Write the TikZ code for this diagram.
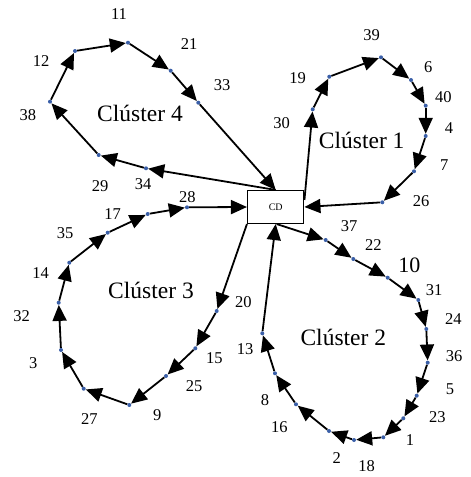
\documentclass[tikz,border=0pt]{standalone}
\usepackage{fontspec}
\setmainfont{Liberation Serif}
\usetikzlibrary{arrows.meta,calc}
\definecolor{dotblue}{RGB}{58,95,168}
\tikzset{
  pt/.style={circle,fill=dotblue,inner sep=0pt,minimum size=4pt},
  num/.style={inner sep=0pt,font=\fontsize{16.5}{18}\selectfont},
  bignum/.style={inner sep=0pt,font=\fontsize{22}{24}\selectfont},
  clab/.style={inner sep=0pt,font=\fontsize{23.5}{26}\selectfont},
  arr/.style={line width=1.8pt,-{Triangle[length=16pt,width=14pt]}},
  depot/.style={draw,line width=1.5pt,rectangle,minimum width=56pt,minimum height=32.6pt,inner sep=0pt,font=\fontsize{10}{12}\selectfont}
}
\begin{document}
\begin{tikzpicture}[x=1pt,y=-1pt]
\useasboundingbox (0,0) rectangle (471,477);

% central depot
\node[depot] (CD) at (275.7,207) {CD};

% route points of cluster 4
\node[pt] (n34) at (146,168.3) {};
\node[pt] (n29) at (98.7,155) {};
\node[pt] (n38) at (50,101.7) {};
\node[pt] (n12) at (75,51) {};
\node[pt] (n11) at (128,42.7) {};
\node[pt] (n21) at (170.7,70.7) {};
\node[pt] (n33) at (198.3,102.7) {};

% route points of cluster 1
\node[pt] (n30) at (312.7,109.3) {};
\node[pt] (n19) at (329.3,76.7) {};
\node[pt] (n39) at (381,57.3) {};
\node[pt] (n6) at (411,80) {};
\node[pt] (n40) at (425.7,105.7) {};
\node[pt] (n4) at (425.7,136) {};
\node[pt] (n7) at (414,171.3) {};
\node[pt] (n26) at (382.3,202.3) {};

% route points of cluster 2
\node[pt] (n37) at (325.7,240) {};
\node[pt] (n22) at (353.3,259) {};
\node[pt] (n10) at (387.7,277.7) {};
\node[pt] (n31) at (418.3,300) {};
\node[pt] (n24) at (426.3,329) {};
\node[pt] (n36) at (427.7,362.7) {};
\node[pt] (n5) at (416.7,395.7) {};
\node[pt] (n23) at (403.3,418.3) {};
\node[pt] (n1) at (383.3,437.3) {};
\node[pt] (n18) at (354,440) {};
\node[pt] (n2) at (329,431) {};
\node[pt] (n16) at (296,404.3) {};
\node[pt] (n8) at (275,373.3) {};
\node[pt] (n13) at (262.3,333.3) {};

% route points of cluster 3
\node[pt] (n20) at (216.7,311) {};
\node[pt] (n15) at (195.3,348.3) {};
\node[pt] (n25) at (166,376) {};
\node[pt] (n9) at (129.3,405) {};
\node[pt] (n27) at (83.7,388.7) {};
\node[pt] (n3) at (61,350) {};
\node[pt] (n32) at (58.7,302.7) {};
\node[pt] (n14) at (69.3,262.7) {};
\node[pt] (n35) at (107.7,232.7) {};
\node[pt] (n17) at (147.7,214) {};
\node[pt] (n28) at (187,207.3) {};

% depot attachment points
\coordinate (c1out) at ($(CD.north east)+(0,10)$);

% cluster 4 tour
\draw[arr] (CD.north) -- (n34);
\draw[arr] (n34) -- (n29);
\draw[arr] (n29) -- (n38);
\draw[arr] (n38) -- (n12);
\draw[arr] (n12) -- (n11);
\draw[arr] (n11) -- (n21);
\draw[arr] (n21) -- (n33);
\draw[arr] (n33) -- (CD.north);

% cluster 1 tour
\draw[arr] (c1out) -- (n30);
\draw[arr] (n30) -- (n19);
\draw[arr] (n19) -- (n39);
\draw[arr] (n39) -- (n6);
\draw[arr] (n6) -- (n40);
\draw[arr] (n40) -- (n4);
\draw[arr] (n4) -- (n7);
\draw[arr] (n7) -- (n26);
\draw[arr] (n26) -- (CD.east);

% cluster 2 tour
\draw[arr] ([xshift=1pt]CD.south) -- (n37);
\draw[arr] (n37) -- (n22);
\draw[arr] (n22) -- (n10);
\draw[arr] (n10) -- (n31);
\draw[arr] (n31) -- (n24);
\draw[arr] (n24) -- (n36);
\draw[arr] (n36) -- (n5);
\draw[arr] (n5) -- (n23);
\draw[arr] (n23) -- (n1);
\draw[arr] (n1) -- (n18);
\draw[arr] (n18) -- (n2);
\draw[arr] (n2) -- (n16);
\draw[arr] (n16) -- (n8);
\draw[arr] (n8) -- (n13);
\draw[arr] (n13) -- (CD.south);

% cluster 3 tour
\draw[arr] (CD.south west) -- (n20);
\draw[arr] (n20) -- (n15);
\draw[arr] (n15) -- (n25);
\draw[arr] (n25) -- (n9);
\draw[arr] (n9) -- (n27);
\draw[arr] (n27) -- (n3);
\draw[arr] (n3) -- (n32);
\draw[arr] (n32) -- (n14);
\draw[arr] (n14) -- (n35);
\draw[arr] (n35) -- (n17);
\draw[arr] (n17) -- (n28);
\draw[arr] (n28) -- (CD.west);

% cluster names
\node[clab] (k4) at (140,113) {Clúster 4};
\node[clab] (k1) at (361.7,140) {Clúster 1};
\node[clab] (k3) at (151,290) {Clúster 3};
\node[clab] (k2) at (343.3,337.7) {Clúster 2};

% point numbers
\node[num] (l11) at (119,14) {11};
\node[num] (l12) at (41,61) {12};
\node[num] (l21) at (189,44) {21};
\node[num] (l33) at (222,85) {33};
\node[num] (l38) at (28,115) {38};
\node[num] (l29) at (100,186) {29};
\node[num] (l34) at (143,184) {34};
\node[num] (l30) at (281.7,122.7) {30};
\node[num] (l19) at (297.7,78.3) {19};
\node[num] (l39) at (371.7,35) {39};
\node[num] (l6) at (428.3,66.7) {6};
\node[num] (l40) at (443.3,96.7) {40};
\node[num] (l4) at (449,127.7) {4};
\node[num] (l7) at (444.3,165) {7};
\node[num] (l26) at (421,201) {26};
\node[num] (l28) at (187.3,196.7) {28};
\node[num] (l17) at (112.7,214) {17};
\node[num] (l35) at (65,233.3) {35};
\node[num] (l14) at (40.7,273.3) {14};
\node[num] (l32) at (21.7,315.7) {32};
\node[num] (l3) at (33.3,363.3) {3};
\node[num] (l27) at (89.3,419.3) {27};
\node[num] (l9) at (157.3,415) {9};
\node[num] (l25) at (194,386) {25};
\node[num] (l15) at (214.3,358.3) {15};
\node[num] (l20) at (243.3,301.7) {20};
\node[num] (l37) at (349,226) {37};
\node[num] (l22) at (373.3,245) {22};
\node[bignum] (l10) at (409.3,265) {10};
\node[num] (l31) at (434,290) {31};
\node[num] (l24) at (453.3,319.3) {24};
\node[num] (l36) at (454,356) {36};
\node[num] (l5) at (450,389.3) {5};
\node[num] (l23) at (437.3,416.7) {23};
\node[num] (l1) at (410,440) {1};
\node[num] (l18) at (366.7,466) {18};
\node[num] (l2) at (336.7,458.3) {2};
\node[num] (l16) at (279.3,427.3) {16};
\node[num] (l8) at (265,400) {8};
\node[num] (l13) at (245,349.3) {13};
\end{tikzpicture}
\end{document}
